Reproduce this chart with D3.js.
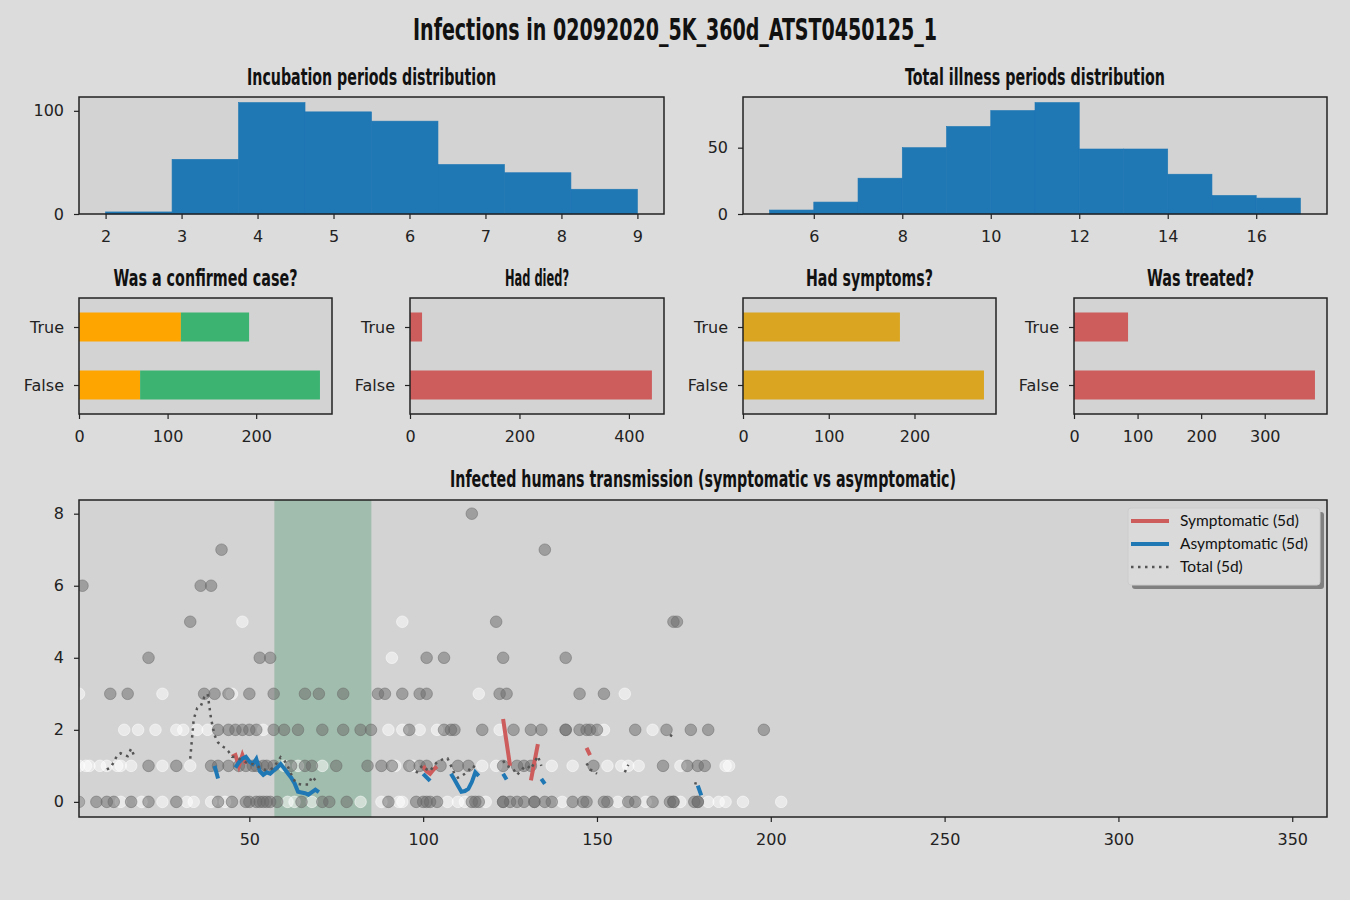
<!DOCTYPE html>
<html>
<head>
<meta charset="utf-8">
<script src="https://cdn.jsdelivr.net/npm/d3@7"></script>
<style>
  html, body { margin: 0; padding: 0; background: #dcdcdc; }
  svg { display: block; }
</style>
</head>
<body>
<div id="chart"></div>
<script>
// --- data ---
var incubRange = [2, 9];
var incubCounts = [2, 53, 108, 99, 90, 48, 40, 24];
var illnessRange = [5, 17];
var illnessCounts = [3, 9, 27, 50, 66, 78, 84, 49, 49, 30, 14, 12];

var boolLabels = ['False', 'True'];
var confirmedA = [69, 115];   // orange part
var confirmedB = [203, 77];   // green part
var diedCounts = [442, 22];
var symptomCounts = [281, 183];
var treatedCounts = [379, 85];

// scatter points, [day, transmissions]
var grayPts = [
  [114, 8], [42, 7], [135, 7], [2, 6], [36, 6], [39, 6],
  [33, 5], [121, 5], [172, 5], [173, 5],
  [21, 4], [53, 4], [56, 4], [101, 4], [106, 4], [123, 4], [141, 4],
  [10, 3], [15, 3], [37, 3], [40, 3], [44, 3], [50, 3], [57, 3], [66, 3], [70, 3], [77, 3],
  [87, 3], [89, 3], [94, 3], [99, 3], [101, 3], [122, 3], [124, 3], [145, 3], [152, 3],
  [41, 2], [44, 2], [46, 2], [48, 2], [50, 2], [52, 2], [57, 2], [60, 2], [64, 2], [71, 2],
  [77, 2], [82, 2], [85, 2], [96, 2], [106, 2], [108, 2], [109, 2], [117, 2], [126, 2],
  [131, 2], [134, 2], [141, 2], [141, 2], [145, 2], [147, 2], [148, 2], [150, 2], [161, 2],
  [170, 2], [177, 2], [182, 2], [198, 2],
  [21, 1], [29, 1], [39, 1], [41, 1], [44, 1], [47, 1], [49, 1], [51, 1], [52, 1], [54, 1],
  [55, 1], [57, 1], [62, 1], [66, 1], [68, 1], [75, 1], [84, 1], [88, 1], [91, 1], [96, 1],
  [99, 1], [101, 1], [105, 1], [110, 1], [113, 1], [123, 1], [127, 1], [129, 1], [131, 1],
  [149, 1], [169, 1], [176, 1], [179, 1], [181, 1],
  [1, 0], [6, 0], [9, 0], [11, 0], [16, 0], [21, 0], [29, 0], [41, 0], [45, 0], [49, 0],
  [50, 0], [52, 0], [53, 0], [54, 0], [55, 0], [56, 0], [58, 0], [65, 0], [71, 0], [73, 0],
  [78, 0], [90, 0], [98, 0], [100, 0], [101, 0], [102, 0], [104, 0], [114, 0], [115, 0],
  [116, 0], [123, 0], [123, 0], [125, 0], [127, 0], [129, 0], [132, 0], [132, 0], [135, 0],
  [137, 0], [143, 0], [146, 0], [147, 0], [152, 0], [153, 0], [159, 0], [161, 0], [166, 0],
  [171, 0], [172, 0], [172, 0], [178, 0], [179, 0], [179, 0]
];
var whitePts = [
  [48, 5], [94, 5], [91, 4],
  [1, 3], [25, 3], [45, 3], [116, 3], [158, 3],
  [14, 2], [18, 2], [23, 2], [29, 2], [31, 2], [35, 2], [38, 2], [54, 2], [90, 2], [94, 2],
  [99, 2], [104, 2], [122, 2], [152, 2], [166, 2],
  [1, 1], [3, 1], [4, 1], [7, 1], [9, 1], [12, 1], [13, 1], [16, 1], [25, 1], [33, 1],
  [60, 1], [64, 1], [71, 1], [92, 1], [97, 1], [117, 1], [121, 1], [137, 1], [143, 1],
  [153, 1], [157, 1], [159, 1], [162, 1], [174, 1], [187, 1], [188, 1],
  [1, 0], [13, 0], [19, 0], [25, 0], [32, 0], [34, 0], [39, 0], [43, 0], [61, 0], [63, 0],
  [68, 0], [82, 0], [88, 0], [93, 0], [94, 0], [107, 0], [110, 0], [112, 0], [118, 0],
  [140, 0], [156, 0], [164, 0], [174, 0], [182, 0], [185, 0], [187, 0], [192, 0], [203, 0]
];

// 5-day rolling means; null marks a gap
var symDays = [45, 46, 47, 48, 49, null, 100, 101, 102, 103, 104, null, 123, 124, 125, null,
  131, 132, 133, null, 147, 148];
var symVals = [1.25, 1.3, 1.0, 1.3, 1.05, null, 1.0, 0.85, 0.78, 0.9, 0.98, null, 2.3, 1.65, 1.0, null,
  0.6, 1.1, 1.6, null, 1.5, 1.3];

var asymDays = [40, 41, null, 46, 47, 48, 49, 50, 51, 52, 53, 54, 55, 56, 57, 58, 59, 60, 61, 62,
  63, 64, 65, 66, 67, 68, 69, 70, null, 100, 101, 102, null, 108, 109, 110, 111, 112, 113, 114,
  115, 116, null, 123, 124, null, 134, 135, null, 179, 180];
var asymVals = [1.0, 0.65, null, 0.95, 1.1, 1.2, 1.25, 1.12, 1.05, 1.19, 0.85, 0.75, 0.82, 0.78,
  0.87, 0.95, 1.05, 0.93, 0.8, 0.68, 0.52, 0.28, 0.26, 0.24, 0.2, 0.27, 0.34, 0.27, null,
  0.78, 0.68, 0.58, null, 0.78, 0.62, 0.45, 0.28, 0.3, 0.36, 0.55, 0.82, 0.72, null,
  0.78, 0.62, null, 0.64, 0.5, null, 0.45, 0.18];

var totalDays = [9, 10, 11, 12, 13, 14, 15, 16, 17, null,
  33, 34, 35, 36, 37, 38, 39, 40, 41, 42, 43, 44, 45, 46, 47, 48, 49, 50, 51, 52, 53, 54, 55,
  56, 57, 58, 59, 60, 61, 62, 63, 64, 65, 66, 67, 68, 69, 70, null,
  98, 99, 100, 101, 102, 103, 104, 105, 106, 107, 108, 109, 110, 111, 112, 113, 114, 115, null,
  123, 124, 125, 126, 127, 128, 129, 130, 131, 132, 133, 134, null,
  147, 148, 149, 150, null, 158, 159, null, 171, 172, null, 178, 179];
var totalVals = [0.9, 0.95, 1.1, 1.3, 1.35, 1.3, 1.27, 1.48, 1.25, null,
  1.2, 2.3, 2.6, 2.65, 2.9, 3.0, 2.3, 1.85, 1.65, 1.55, 1.5, 1.4, 1.25, 1.25, 1.2, 1.15, 1.1,
  1.05, 1.05, 1.0, 0.95, 0.9, 0.88, 0.9, 0.95, 1.1, 1.24, 1.16, 1.0, 0.78, 0.59, 0.5, 0.48,
  0.48, 0.48, 0.7, 0.6, 0.56, null,
  0.8, 0.95, 1.0, 0.9, 0.85, 1.0, 1.1, 1.15, 1.2, 1.21, 1.0, 0.78, 0.67, 0.72, 0.78, 0.85,
  1.0, 0.96, null,
  1.14, 1.0, 0.96, 0.9, 0.75, 0.85, 0.96, 1.0, 0.91, 1.1, 1.27, 1.0, null,
  1.07, 0.9, 0.85, 0.78, null, 0.82, 1.03, null, 1.86, 1.8, null, 0.52, 0.5];

var spanDays = [57.2, 85.1];
var scatterTicksX = [50, 100, 150, 200, 250, 300, 350];
var scatterTicksY = [0, 2, 4, 6, 8];

// --- drawing ---
var W = 1350, H = 900;
var titleFont = "'Liberation Sans Narrow', 'DejaVu Sans Condensed', sans-serif";
var tickFont = "'DejaVu Sans', sans-serif";
var ink = '#222';

var svg = d3.select('#chart').append('svg')
    .attr('width', W)
    .attr('height', H);

svg.append('rect').attr('width', W).attr('height', H).attr('fill', '#dcdcdc');

function title(text, cx, y, size, len) {
    svg.append('text')
        .attr('x', cx)
        .attr('y', y)
        .attr('text-anchor', 'middle')
        .attr('font-family', titleFont)
        .attr('font-weight', 'bold')
        .attr('font-size', size)
        .attr('textLength', len)
        .attr('lengthAdjust', 'spacingAndGlyphs')
        .attr('fill', '#111')
        .text(text);
}

function panel(box) {
    var g = svg.append('g');
    g.append('rect')
        .attr('x', box.l).attr('y', box.t)
        .attr('width', box.r - box.l).attr('height', box.b - box.t)
        .attr('fill', '#d3d3d3');
    return g;
}

function frame(box) {
    svg.append('rect')
        .attr('x', box.l).attr('y', box.t)
        .attr('width', box.r - box.l).attr('height', box.b - box.t)
        .attr('fill', 'none')
        .attr('stroke', ink)
        .attr('stroke-width', 1.5);
}

function styleAxis(g) {
    g.select('.domain').remove();
    g.selectAll('line').attr('stroke', ink).attr('stroke-width', 1.2);
    g.selectAll('text')
        .attr('font-family', tickFont)
        .attr('font-size', 16)
        .attr('fill', ink);
}

function xAxis(scale, box, ticks) {
    svg.append('g')
        .attr('transform', 'translate(0,' + box.b + ')')
        .call(d3.axisBottom(scale).tickValues(ticks).tickSize(5).tickPadding(12).tickFormat(d3.format('d')))
        .call(styleAxis);
}

function yAxis(scale, box, ticks, fmt) {
    svg.append('g')
        .attr('transform', 'translate(' + box.l + ',0)')
        .call(d3.axisLeft(scale).tickValues(ticks).tickSize(5).tickPadding(10)
            .tickFormat(fmt || d3.format('d')))
        .call(styleAxis);
}

// main title
title('Infections in 02092020_5K_360d_ATST0450125_1', 675, 40, 31, 524);

// histograms
function histogram(box, range, counts, xticks, yticks, name, nameLen) {
    var n = counts.length;
    var w = (range[1] - range[0]) / n;
    var pad = (range[1] - range[0]) * 0.05;
    var x = d3.scaleLinear().domain([range[0] - pad, range[1] + pad]).range([box.l, box.r]);
    var y = d3.scaleLinear().domain([0, d3.max(counts) * 1.05]).range([box.b, box.t]);
    var g = panel(box);
    g.selectAll('rect.bar')
        .data(counts)
        .enter()
        .append('rect')
        .attr('class', 'bar')
        .attr('x', function(d, i) { return x(range[0] + i * w); })
        .attr('width', function(d, i) { return x(range[0] + (i + 1) * w) - x(range[0] + i * w); })
        .attr('y', function(d) { return y(d); })
        .attr('height', function(d) { return y(0) - y(d); })
        .attr('fill', '#1f77b4')
        .attr('stroke', '#1f77b4')
        .attr('stroke-width', 0.6);
    frame(box);
    xAxis(x, box, xticks);
    yAxis(y, box, yticks);
    title(name, (box.l + box.r) / 2, box.t - 12, 23, nameLen);
}

histogram({l: 79, r: 664, t: 97, b: 214}, incubRange, incubCounts,
    [2, 3, 4, 5, 6, 7, 8, 9], [0, 100], 'Incubation periods distribution', 249);
histogram({l: 743, r: 1327, t: 97, b: 214}, illnessRange, illnessCounts,
    [6, 8, 10, 12, 14, 16], [0, 50], 'Total illness periods distribution', 260);

// horizontal bar panels
function barPanel(box, stacks, colors, xticks, name, nameLen) {
    var totals = boolLabels.map(function(d, i) {
        return d3.sum(stacks, function(s) { return s[i]; });
    });
    var x = d3.scaleLinear().domain([0, d3.max(totals) * 1.05]).range([box.l, box.r]);
    var y = d3.scaleLinear().domain([-0.5, 1.5]).range([box.b, box.t]);
    var g = panel(box);
    stacks.forEach(function(s, k) {
        g.selectAll('rect.s' + k)
            .data(s)
            .enter()
            .append('rect')
            .attr('class', 's' + k)
            .attr('x', function(d, i) {
                var base = 0;
                for (var j = 0; j < k; j++) base += stacks[j][i];
                return x(base);
            })
            .attr('width', function(d) { return x(d) - x(0); })
            .attr('y', function(d, i) { return y(i + 0.25); })
            .attr('height', function() { return y(0) - y(0.5); })
            .attr('fill', colors[k]);
    });
    frame(box);
    xAxis(x, box, xticks);
    yAxis(y, box, [0, 1], function(d) { return boolLabels[d]; });
    title(name, (box.l + box.r) / 2, box.t - 12, 23, nameLen);
}

barPanel({l: 79, r: 332, t: 298, b: 414}, [confirmedA, confirmedB], ['#ffa500', '#3cb371'],
    [0, 100, 200], 'Was a confirmed case?', 184);
barPanel({l: 410, r: 664, t: 298, b: 414}, [diedCounts], ['#cd5c5c'],
    [0, 200, 400], 'Had died?', 64);
barPanel({l: 743, r: 996, t: 298, b: 414}, [symptomCounts], ['#daa520'],
    [0, 100, 200], 'Had symptoms?', 127);
barPanel({l: 1074, r: 1327, t: 298, b: 414}, [treatedCounts], ['#cd5c5c'],
    [0, 100, 200, 300], 'Was treated?', 107);

// transmission scatter
var sbox = {l: 79, r: 1327, t: 500, b: 817};
var sx = d3.scaleLinear().domain([1, 360]).range([sbox.l, sbox.r]);
var sy = d3.scaleLinear().domain([-0.42, 8.38]).range([sbox.b, sbox.t]);
var sg = panel(sbox);

sg.append('rect')
    .attr('x', sx(spanDays[0]))
    .attr('width', sx(spanDays[1]) - sx(spanDays[0]))
    .attr('y', sbox.t)
    .attr('height', sbox.b - sbox.t)
    .attr('fill', '#2e8b57')
    .attr('fill-opacity', 0.3);

svg.append('clipPath').attr('id', 'sclip')
    .append('rect')
    .attr('x', sbox.l).attr('y', sbox.t)
    .attr('width', sbox.r - sbox.l).attr('height', sbox.b - sbox.t);

var pts = sg.append('g').attr('clip-path', 'url(#sclip)');

pts.selectAll('circle.w')
    .data(whitePts)
    .enter()
    .append('circle')
    .attr('class', 'w')
    .attr('cx', function(d) { return sx(d[0]); })
    .attr('cy', function(d) { return sy(d[1]); })
    .attr('r', 5.8)
    .attr('fill', '#ffffff')
    .attr('fill-opacity', 0.5)
    .attr('stroke', '#ffffff')
    .attr('stroke-opacity', 0.5);

pts.selectAll('circle.g')
    .data(grayPts)
    .enter()
    .append('circle')
    .attr('class', 'g')
    .attr('cx', function(d) { return sx(d[0]); })
    .attr('cy', function(d) { return sy(d[1]); })
    .attr('r', 5.8)
    .attr('fill', '#696969')
    .attr('fill-opacity', 0.5)
    .attr('stroke', '#696969')
    .attr('stroke-opacity', 0.5);

function rolling(days, vals, color, width, dash) {
    var data = days.map(function(d, i) { return [d, vals[i]]; });
    var line = d3.line()
        .defined(function(d) { return d[0] !== null && d[1] !== null; })
        .x(function(d) { return sx(d[0]); })
        .y(function(d) { return sy(d[1]); });
    sg.append('path')
        .datum(data)
        .attr('d', line)
        .attr('fill', 'none')
        .attr('stroke', color)
        .attr('stroke-width', width)
        .attr('stroke-dasharray', dash || null);
}

rolling(symDays, symVals, '#cd5c5c', 4);
rolling(asymDays, asymVals, '#1f77b4', 4);
rolling(totalDays, totalVals, '#555555', 2.5, '2.5,4.5');

frame(sbox);
xAxis(sx, sbox, scatterTicksX);
yAxis(sy, sbox, scatterTicksY);
title('Infected humans transmission (symptomatic vs asymptomatic)', (sbox.l + sbox.r) / 2, 487, 23, 506);

// legend
var legendItems = [
    {name: 'Symptomatic (5d)', color: '#cd5c5c', width: 4, dash: null},
    {name: 'Asymptomatic (5d)', color: '#1f77b4', width: 4, dash: null},
    {name: 'Total (5d)', color: '#555555', width: 2.5, dash: '2.5,4.5'}
];
var lg = svg.append('g').attr('transform', 'translate(1128,508)');
lg.append('rect')
    .attr('x', 4).attr('y', 4).attr('width', 192).attr('height', 77).attr('rx', 3)
    .attr('fill', '#808080');
lg.append('rect')
    .attr('width', 192).attr('height', 77).attr('rx', 3)
    .attr('fill', '#dadada')
    .attr('stroke', '#cccccc');
lg.selectAll('g.item')
    .data(legendItems)
    .enter()
    .append('g')
    .attr('class', 'item')
    .attr('transform', function(d, i) { return 'translate(0,' + (13 + i * 23) + ')'; })
    .each(function(d) {
        var it = d3.select(this);
        it.append('line')
            .attr('x1', 3).attr('x2', 41)
            .attr('stroke', d.color)
            .attr('stroke-width', d.width)
            .attr('stroke-dasharray', d.dash);
        it.append('text')
            .attr('x', 52).attr('y', 5)
            .attr('font-family', "Lato, 'Open Sans', sans-serif")
            .attr('font-size', 15.5)
            .attr('fill', '#111')
            .text(d.name);
    });
</script>
</body>
</html>
